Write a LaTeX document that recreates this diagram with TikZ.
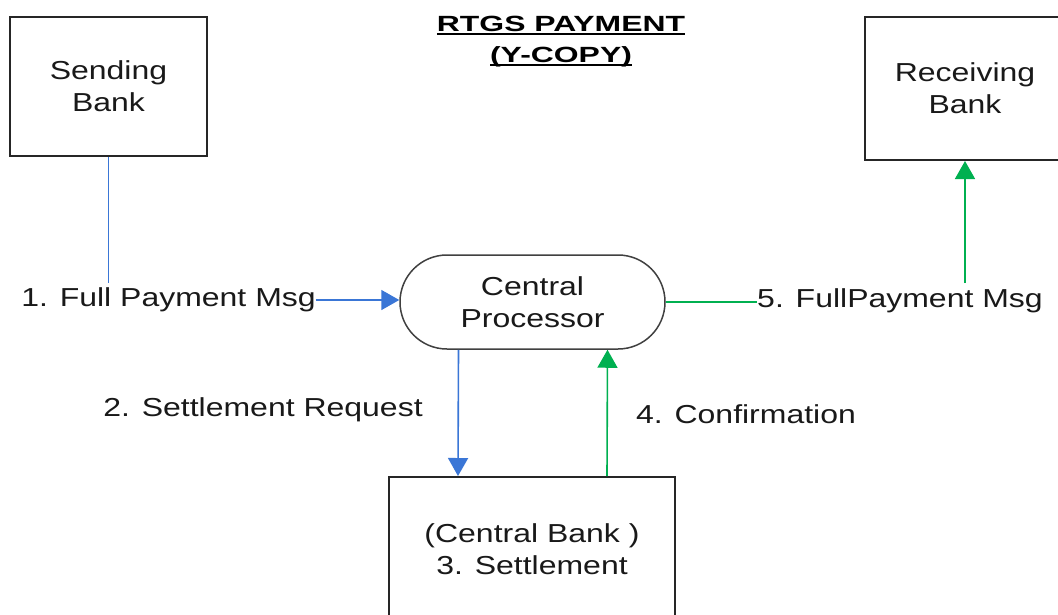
\documentclass[tikz,border=0pt]{standalone}
\usepackage{fontspec}
\setmainfont{Liberation Sans}[FakeStretch=1.23]
\newfontfamily\titlefont{Liberation Sans}[FakeStretch=1.45]
\usetikzlibrary{arrows.meta}
\definecolor{cblue}{RGB}{58,118,214}
\definecolor{cgreen}{RGB}{0,176,80}
\newcommand{\ulbox}[1]{\setbox0\hbox{#1}\rlap{\rule[-3.5pt]{\wd0}{2pt}}\box0}
\begin{document}
\begin{tikzpicture}[x=1pt,y=-1pt,
  txt/.style={font=\fontsize{26}{32}\selectfont, text=black!90},
  box/.style={txt, draw=black!85, line width=2pt, align=center, inner sep=0pt},
  proc/.style={txt, draw=black!75, line width=1.5pt, rounded corners=47pt, align=center, minimum width=265pt, minimum height=94pt, inner sep=0pt},
  lbl/.style={txt, inner sep=0pt},
  title/.style={font=\titlefont\bfseries\fontsize{22}{31}\selectfont, align=center, inner sep=0pt},
  bluearrow/.style={draw=cblue, line width=1.6pt, -{Triangle[length=18pt,width=20pt]}},
  greenarrow/.style={draw=cgreen, line width=1.6pt, -{Triangle[length=18pt,width=20pt]}},
  blueline/.style={draw=cblue, line width=1.6pt},
  greenline/.style={draw=cgreen, line width=1.6pt}
]
\useasboundingbox (0,0) rectangle (1058,614);
\clip (0,0) rectangle (1058,614);
\fill[white] (0,0) rectangle (1058,614);

\node[title] (title) at (561,42) {\ulbox{RTGS PAYMENT}\\\ulbox{(Y-COPY)}};

\node[box, minimum width=197pt, minimum height=139pt] (send) at (108.5,86.5) {Sending\\Bank};
\node[box, minimum width=200pt, minimum height=143pt] (recv) at (965,88.5) {Receiving\\Bank};
\node[proc] (cp) at (532.5,302) {Central\\Processor};
\node[box, minimum width=286pt, minimum height=144pt] (cb) at (532,549) {(Central Bank )\\3. Settlement};

\node[lbl] (l1) at (168.5,300) {1. Full Payment Msg};
\node[lbl] (l5) at (900,301) {5. FullPayment Msg};
\node[lbl] (l2) at (263,410) {2. Settlement Request};
\node[lbl] (l4) at (746,414) {4. Confirmation};

\coordinate (c1) at (108.5,283);
\coordinate (c5) at (965,283);

\draw[blueline] (send.south) -- (c1);
\draw[bluearrow] (l1.east) -- (l1.east -| cp.west);
\draw[greenline] (cp.east) -- (cp.east -| l5.west);
\draw[greenarrow] (c5) -- (recv.south);
\draw[bluearrow] ([xshift=-74pt]cp.south) -- ([xshift=-74pt]cb.north);
\draw[greenarrow] ([xshift=75pt]cb.north) -- ([xshift=75pt]cp.south);
\end{tikzpicture}
\end{document}
